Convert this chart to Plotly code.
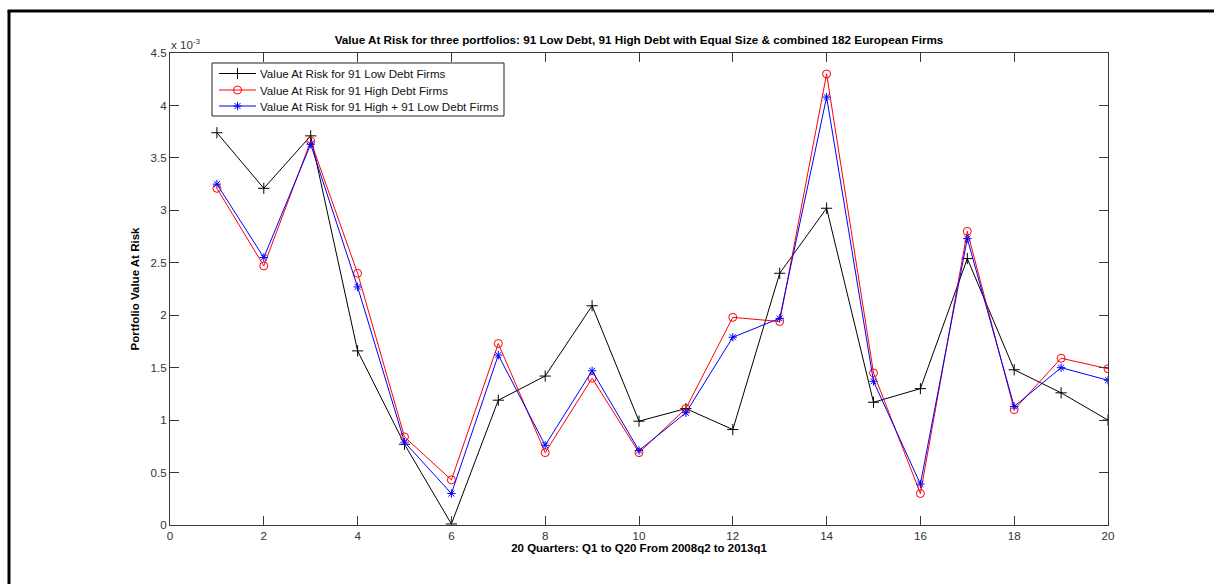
import plotly.graph_objects as go

# Quarter index (Q1..Q20, 2008q2 to 2013q1)
quarters = list(range(1, 21))

# Portfolio Value at Risk, in units of 1e-3
var_low_debt = [3.74, 3.21, 3.71, 1.66, 0.77, 0.01, 1.19, 1.42, 2.09, 0.99,
                1.11, 0.91, 2.40, 3.02, 1.17, 1.30, 2.54, 1.48, 1.26, 1.00]
var_high_debt = [3.21, 2.47, 3.66, 2.40, 0.84, 0.43, 1.73, 0.69, 1.40, 0.69,
                 1.11, 1.98, 1.94, 4.30, 1.45, 0.30, 2.80, 1.10, 1.59, 1.49]
var_combined = [3.25, 2.55, 3.63, 2.27, 0.79, 0.30, 1.62, 0.76, 1.47, 0.71,
                1.07, 1.79, 1.97, 4.08, 1.37, 0.39, 2.73, 1.13, 1.50, 1.38]
scale = 1e-3

series_names = [
    "Value At Risk for 91 Low Debt Firms",
    "Value At Risk for 91 High Debt Firms",
    "Value At Risk for 91 High + 91 Low Debt Firms",
]

y_ticks = [0, 0.5, 1, 1.5, 2, 2.5, 3, 3.5, 4, 4.5]
y_tick_text = ["0", "0.5", "1", "1.5", "2", "2.5", "3", "3.5", "4", "4.5"]
x_ticks = [0, 2, 4, 6, 8, 10, 12, 14, 16, 18, 20]

FONT = "Liberation Sans, Arial, Helvetica, sans-serif"
AXIS_COLOR = "#3a3a3a"
TEXT_SIZE = 11.6

styles = [
    dict(color="black", symbol="cross-thin", size=8),
    dict(color="red", symbol="circle-open", size=8),
    dict(color="blue", symbol="asterisk-open", size=7),
]
series = [var_low_debt, var_high_debt, var_combined]

fig = go.Figure()

for name, values, st in zip(series_names, series, styles):
    fig.add_trace(go.Scatter(
        x=quarters, y=[v * scale for v in values], mode="lines+markers",
        name=name, showlegend=False,
        line=dict(color=st["color"], width=1),
        marker=dict(symbol=st["symbol"], size=st["size"], color=st["color"],
                    line=dict(color=st["color"], width=1)),
    ))

# Figure geometry (pixels)
W, H = 1215, 584
L, R, T, B = 170, 107, 53, 59
pw, ph = W - L - R, H - T - B

def px_x(p):
    return (p - L) / pw

def px_y(p):
    return 1 - (p - T) / ph

# Legend box drawn on an overlay axis measured in pixels
LEG_X0, LEG_X1, LEG_Y0, LEG_Y1 = 212, 504, 63, 116
row_y = [73.5, 90, 106]
sample_x0, sample_x1 = 219, 256
for name, st, yy in zip(series_names, styles, row_y):
    fig.add_trace(go.Scatter(
        x=[sample_x0, sample_x1], y=[yy, yy], mode="lines", xaxis="x2", yaxis="y2",
        line=dict(color=st["color"], width=1), showlegend=False, hoverinfo="skip",
    ))
    fig.add_trace(go.Scatter(
        x=[(sample_x0 + sample_x1) / 2], y=[yy], mode="markers", xaxis="x2", yaxis="y2",
        marker=dict(symbol=st["symbol"], size=st["size"], color=st["color"],
                    line=dict(color=st["color"], width=1)),
        showlegend=False, hoverinfo="skip",
    ))
    fig.add_annotation(
        xref="x2", yref="y2", x=258, y=yy, xanchor="left", yanchor="middle",
        showarrow=False, text=name,
        font=dict(family=FONT, size=TEXT_SIZE, color="#111111"),
    )

fig.update_layout(
    width=W, height=H,
    margin=dict(l=L, r=R, t=T, b=B, pad=0),
    paper_bgcolor="white", plot_bgcolor="white",
    font=dict(family=FONT, size=TEXT_SIZE, color="#222222"),
    title=dict(
        text="<b>Value At Risk for three portfolios: 91 Low Debt, 91 High Debt with Equal Size & combined 182 European Firms</b>",
        x=(L + pw / 2) / W, xanchor="center", y=1 - 40 / H, yanchor="middle",
        font=dict(family=FONT, size=11.7, color="black"),
    ),
    showlegend=False,
    xaxis=dict(
        range=[0, 20], tickvals=x_ticks, ticktext=[str(t) for t in x_ticks],
        showgrid=False, zeroline=False,
        showline=True, linecolor=AXIS_COLOR, linewidth=1, mirror="allticks",
        ticks="inside", ticklen=9, tickcolor=AXIS_COLOR, tickwidth=1,
        tickfont=dict(family=FONT, size=TEXT_SIZE, color="#333333"),
        title=dict(text="<b>20 Quarters: Q1 to Q20 From 2008q2 to 2013q1</b>",
                   font=dict(family=FONT, size=11.5, color="black"), standoff=3),
    ),
    yaxis=dict(
        range=[0, 4.5 * scale], tickvals=[t * scale for t in y_ticks], ticktext=y_tick_text,
        showgrid=False, zeroline=False,
        showline=True, linecolor=AXIS_COLOR, linewidth=1, mirror="allticks",
        ticks="inside", ticklen=9, tickcolor=AXIS_COLOR, tickwidth=1,
        tickfont=dict(family=FONT, size=TEXT_SIZE, color="#333333"),
        title=dict(text="<b>Portfolio Value At Risk</b>",
                   font=dict(family=FONT, size=11.5, color="black"), standoff=8),
    ),
    xaxis2=dict(range=[L, L + pw], overlaying="x", visible=False, fixedrange=True),
    yaxis2=dict(range=[T + ph, T], overlaying="y", visible=False, fixedrange=True),
)

# legend frame
fig.add_shape(
    type="rect", xref="x2", yref="y2",
    x0=LEG_X0, x1=LEG_X1, y0=LEG_Y0, y1=LEG_Y1,
    line=dict(color="#222222", width=1), fillcolor="white", layer="below",
)

# exponent label above the y axis
fig.add_annotation(
    xref="paper", yref="paper", x=px_x(169), y=px_y(44),
    xanchor="left", yanchor="middle", showarrow=False,
    text="x 10<sup>-3</sup>", font=dict(family=FONT, size=TEXT_SIZE, color="#333333"),
)

# outer figure frame: left and top edges
fig.add_shape(
    type="line", xref="paper", yref="paper",
    x0=px_x(9), x1=px_x(9), y0=px_y(600), y1=px_y(11),
    line=dict(color="black", width=3), layer="below",
)
fig.add_shape(
    type="line", xref="paper", yref="paper",
    x0=px_x(7.5), x1=px_x(1214), y0=px_y(11), y1=px_y(11),
    line=dict(color="black", width=3), layer="below",
)

# keep the page itself free of scrollbars
fig.write_html(
    "out.html",
    post_script="document.documentElement.style.overflow='hidden';"
                "document.body.style.overflow='hidden';document.body.style.margin='0';",
)
